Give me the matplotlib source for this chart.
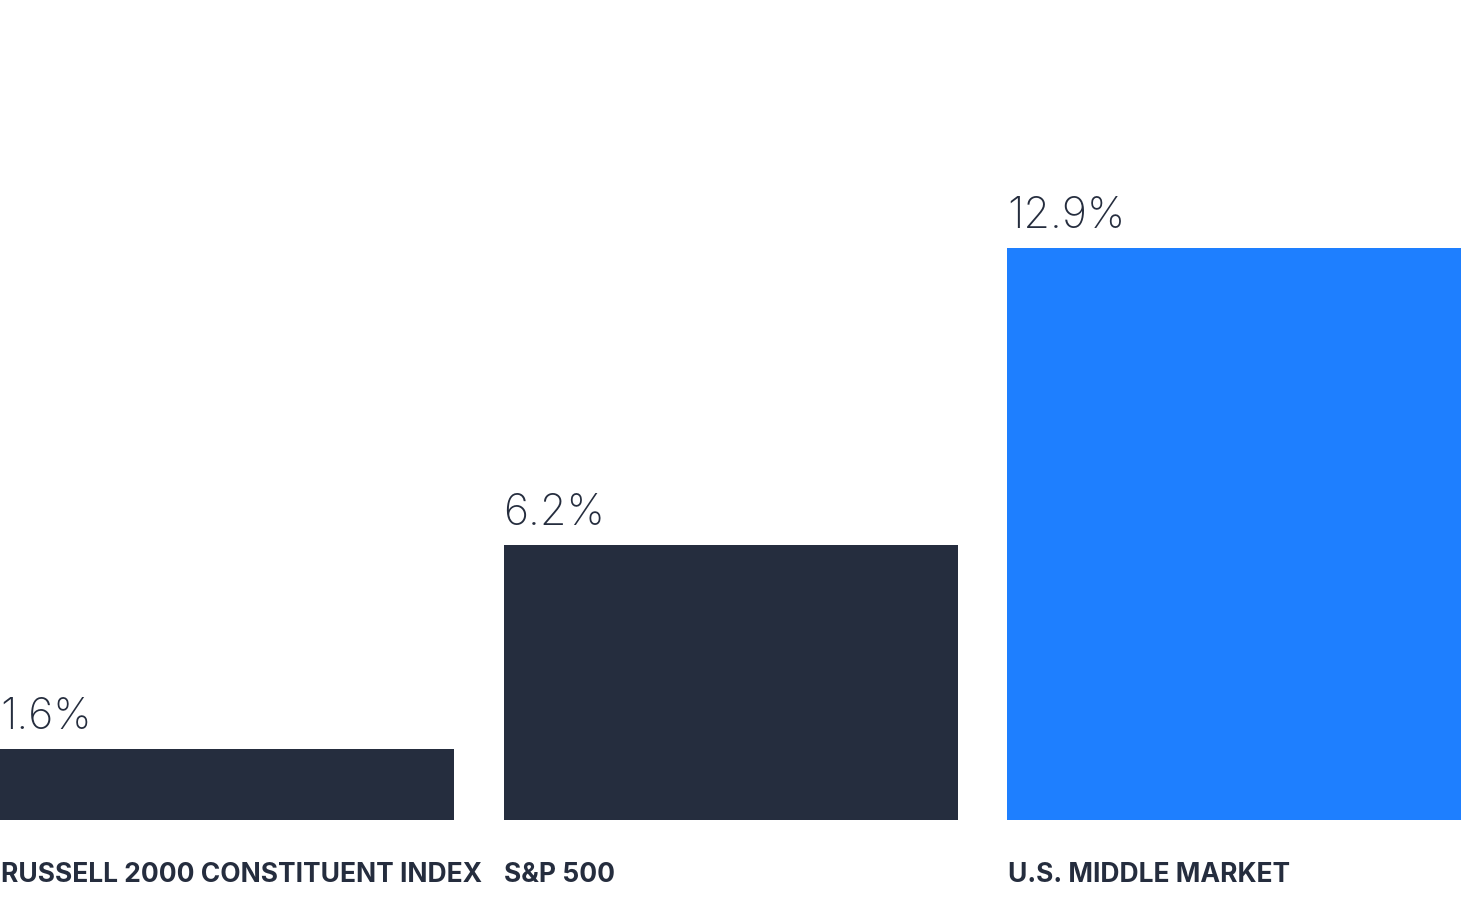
import matplotlib
matplotlib.use("Agg")
import matplotlib.pyplot as plt

categories = ["RUSSELL 2000 CONSTITUENT INDEX", "S&P 500", "U.S. MIDDLE MARKET"]
values = [1.6, 6.2, 12.9]
value_labels = ["1.6%", "6.2%", "12.9%"]
colors = ["#252d3e", "#252d3e", "#1e7fff"]
text_color = "#252d3e"

W, H = 1461, 901
fig = plt.figure(figsize=(W / 100, H / 100), dpi=100)
ax = fig.add_axes([0, 81 / H, 1, 820 / H])

width = 454 / 503.5
xs = list(range(len(values)))
ax.bar(xs, values, width=width, color=colors, align="center")
ax.set_xlim(-width / 2, 2 + width / 2)
ax.set_ylim(0, 820 / 44.34)
ax.axis("off")

for x, v, lab in zip(xs, values, value_labels):
    ax.annotate(lab, (x - width / 2, v), xytext=(0, 20), textcoords="offset pixels",
                ha="left", va="baseline", fontsize=31, family="Inter",
                fontweight="light", color=text_color)

for x, c in zip(xs, categories):
    ax.annotate(c, (x - width / 2, 0), xytext=(1, -62), textcoords="offset pixels",
                ha="left", va="baseline", fontsize=19, family="Inter",
                fontweight="bold", color=text_color)

fig.savefig("out.png", dpi=100)
